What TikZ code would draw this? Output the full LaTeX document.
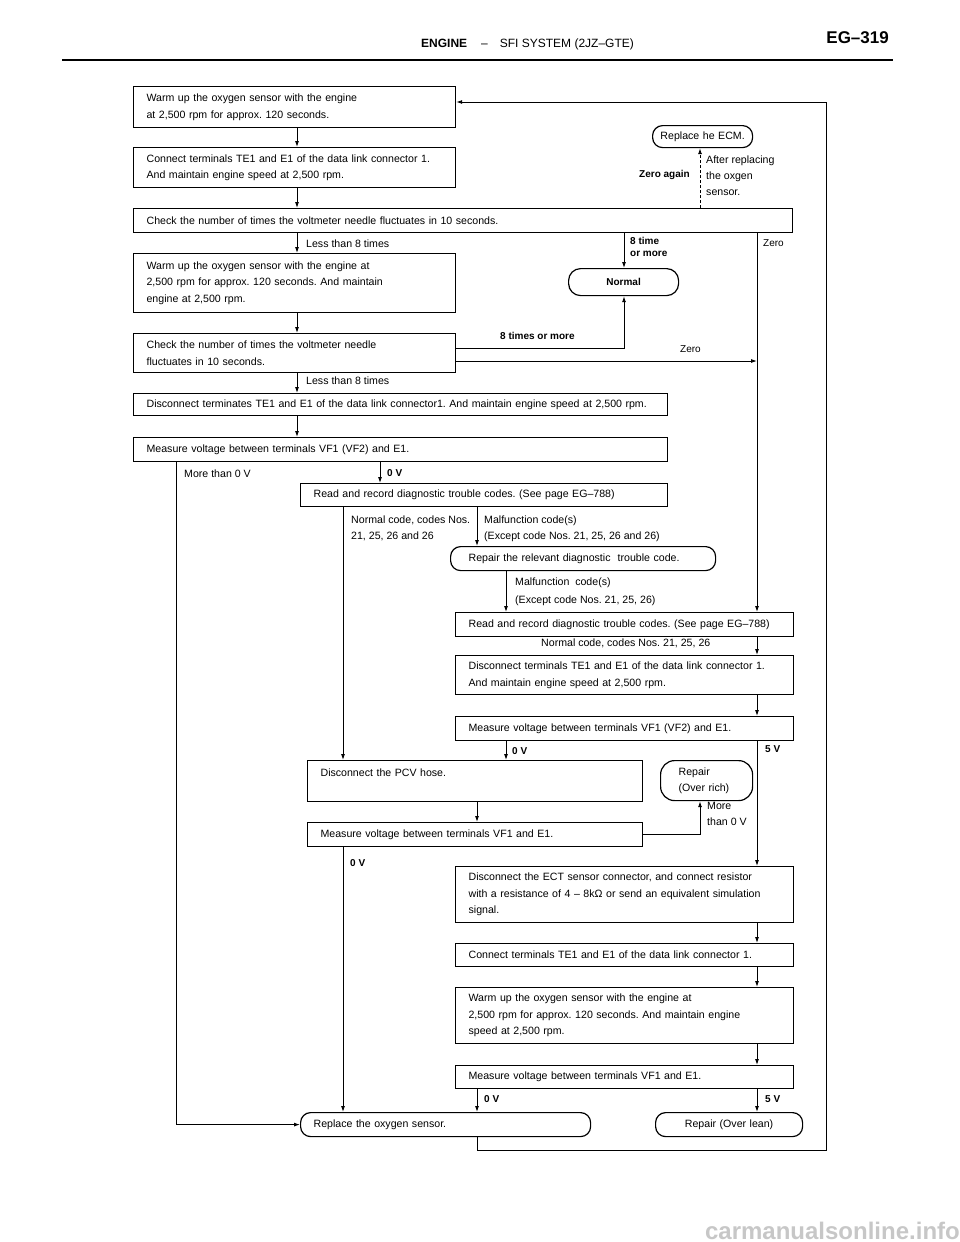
\documentclass[tikz,border=0pt]{standalone}
\usepackage{fontspec}
\setmainfont{Liberation Sans}
\usetikzlibrary{arrows.meta}
\frenchspacing
\newcommand\boxfont{\fontsize{10.6}{16.5}\selectfont}
\newcommand\scanfont{\bfseries\fontsize{10}{12}\selectfont}
\def\bxpad{13}
\newcommand\bxnode[7][]{%
 \pgfmathsetmacro\bxw{#5-#3}%
 \pgfmathsetmacro\bxh{#6-#4}%
 \pgfmathsetmacro\bxt{#5-#3-2*\bxpad}%
 \node[box,minimum width=\bxw pt,minimum height=\bxh pt,text width=\bxt pt,inner xsep=\bxpad pt,#1] (#2) at (#3,#4) {#7};}
\begin{document}
\begin{tikzpicture}[x=1pt,y=-1pt,
  box/.style={draw,line width=1.2pt,anchor=north west,inner ysep=0pt,align=left,font=\boxfont},
  term/.style={rounded corners=10pt},
  arr/.style={line width=0.9pt,-{Latex[length=6pt,width=4pt]}},
  lbl/.style={inner sep=0pt,font=\boxfont,align=left,anchor=north west},
  slbl/.style={inner sep=0pt,font=\scanfont,align=left,anchor=north west}]
\useasboundingbox (0,0) rectangle (960,1242);
% header
\node[anchor=base west,inner sep=0pt,font=\fontsize{12}{14}\selectfont] (hdr) at (421,47) {\textbf{ENGINE}\hspace{14pt}–\hspace{12pt}SFI SYSTEM (2JZ–GTE)};
\node[anchor=base east,inner sep=0pt,font=\bfseries\fontsize{17}{20}\selectfont] (pg) at (889,43) {EG–319};
\draw[line width=1.6pt] (62,60) -- (893,60);
% boxes
\bxnode{b1}{133}{86}{455}{127}{Warm up the oxygen sensor with the engine\\at 2,500 rpm for approx. 120 seconds.}
\bxnode{b2}{133}{147}{455}{187}{Connect terminals TE1 and E1 of the data link connector 1.\\And maintain engine speed at 2,500 rpm.}
\bxnode{b3}{133}{208}{792}{232}{Check the number of times the voltmeter needle fluctuates in 10 seconds.}
\bxnode{b4}{133}{253}{455}{312}{Warm up the oxygen sensor with the engine at\\2,500 rpm for approx. 120 seconds. And maintain\\engine at 2,500 rpm.}
\bxnode{b5}{133}{333}{455}{372}{Check the number of times the voltmeter needle\\fluctuates in 10 seconds.}
\bxnode{b6}{133}{393}{667}{415}{Disconnect terminates TE1 and E1 of the data link connector1. And maintain engine speed at 2,500 rpm.}
\bxnode{b7}{133}{437}{667}{461}{Measure voltage between terminals VF1 (VF2) and E1.}
\bxnode{b8}{300}{483}{667}{506}{Read and record diagnostic trouble codes. (See page EG–788)}
\bxnode{b9}{455}{612}{793}{636}{Read and record diagnostic trouble codes. (See page EG–788)}
\bxnode{b10}{455}{655}{793}{694}{Disconnect terminals TE1 and E1 of the data link connector 1.\\And maintain engine speed at 2,500 rpm.}
\bxnode{b11}{455}{716}{793}{740}{Measure voltage between terminals VF1 (VF2) and E1.}
\bxnode{b12}{307}{760}{642}{801}{Disconnect the PCV hose.\\~}
\bxnode{b13}{307}{822}{642}{846}{Measure voltage between terminals VF1 and E1.}
\bxnode{b14}{455}{866}{793}{922}{Disconnect the ECT sensor connector, and connect resistor\\with a resistance of 4 – 8kΩ or send an equivalent simulation\\signal.}
\bxnode{b15}{455}{943}{793}{966}{Connect terminals TE1 and E1 of the data link connector 1.}
\bxnode{b16}{455}{987}{793}{1043}{Warm up the oxygen sensor with the engine at\\2,500 rpm for approx. 120 seconds. And maintain engine\\speed at 2,500 rpm.}
\bxnode{b17}{455}{1065}{793}{1088}{Measure voltage between terminals VF1 and E1.}
% terminal nodes
\def\bxpad{18}
\bxnode[term]{rep1}{450}{546}{715}{570}{Repair the relevant diagnostic\ \ trouble code.}
\bxnode[term,rounded corners=14pt]{rich}{660}{760}{752}{800}{Repair\\\mbox{(Over rich)}}
\def\bxpad{13}
\bxnode[term]{oxy}{300}{1112}{590}{1136}{Replace the oxygen sensor.}
\bxnode[term,align=center]{lean}{655}{1112}{802}{1136}{Repair (Over lean)}
\def\bxpad{5}
\bxnode[term,align=center]{ecm}{652}{125}{752}{147}{Replace he ECM.}
\bxnode[term,align=center,rounded corners=12pt,font=\scanfont]{normal}{568}{268}{678}{295}{Normal}
% columns
\coordinate (cA) at (297,0);
\coordinate (cN) at (624,0);
\coordinate (cZ) at (757,0);
\coordinate (cL) at (176,0);
\coordinate (cB) at (380,0);
\coordinate (cC) at (343,0);
\coordinate (cD) at (477,0);
\coordinate (cE) at (506,0);
\coordinate (cG) at (700,0);
\coordinate (cR) at (826,0);
\coordinate (r1) at (0,348);
\coordinate (r2) at (0,361);
\coordinate (rb) at (0,1150);
\coordinate (rt) at (0,102);
% connectors
\draw[arr] (b1.south -| cA) -- (b2.north -| cA);
\draw[arr] (b2.south -| cA) -- (b3.north -| cA);
\draw[arr] (b3.south -| cA) -- (b4.north -| cA);
\draw[arr] (b4.south -| cA) -- (b5.north -| cA);
\draw[arr] (b5.south -| cA) -- (b6.north -| cA);
\draw[arr] (b6.south -| cA) -- (b7.north -| cA);
\draw[arr,dash pattern=on 3pt off 2pt] (b3.north -| cG) -- (ecm.south -| cG);
\draw[arr] (b3.south -| cN) -- (normal.north -| cN);
\draw[arr] (b5.east |- r1) -- (cN |- r1) -- (normal.south -| cN);
\draw[arr] (b5.east |- r2) -- (cZ |- r2);
\draw[arr] (b3.south -| cZ) -- (b9.north -| cZ);
\draw[arr] (b7.south -| cB) -- (b8.north -| cB);
\draw[arr] (b7.south -| cL) -- (cL |- oxy.west) -- (oxy.west);
\draw[arr] (b8.south -| cC) -- (b12.north -| cC);
\draw[arr] (b8.south -| cD) -- (rep1.north -| cD);
\draw[arr] (rep1.south -| cE) -- (b9.north -| cE);
\draw[arr] (b9.south -| cZ) -- (b10.north -| cZ);
\draw[arr] (b10.south -| cZ) -- (b11.north -| cZ);
\draw[arr] (b11.south -| cE) -- (b12.north -| cE);
\draw[arr] (b11.south -| cZ) -- (b14.north -| cZ);
\draw[arr] (b12.south -| cD) -- (b13.north -| cD);
\draw[arr] (b13.south -| cC) -- (oxy.north -| cC);
\draw[arr] (b13.east) -- (cG |- b13.east) -- (rich.south -| cG);
\draw[arr] (b14.south -| cZ) -- (b15.north -| cZ);
\draw[arr] (b15.south -| cZ) -- (b16.north -| cZ);
\draw[arr] (b16.south -| cZ) -- (b17.north -| cZ);
\draw[arr] (b17.south -| cD) -- (oxy.north -| cD);
\draw[arr] (b17.south -| cZ) -- (lean.north -| cZ);
\draw[arr] (oxy.south -| cD) -- (cD |- rb) -- (cR |- rb) -- (cR |- rt) -- (b1.east |- rt);
% labels
\node[lbl] (l1) at (306,240) {Less than 8 times};
\node[lbl] (l2) at (306,377) {Less than 8 times};
\node[slbl] (l3) at (630,237) {8 time\\or more};
\node[lbl,font=\fontsize{10}{12}\selectfont] (l4) at (763,239) {Zero};
\node[slbl] (l5) at (500,332) {8 times or more};
\node[lbl,font=\fontsize{10}{12}\selectfont] (l6) at (680,345) {Zero};
\node[slbl,anchor=north east] (l7) at (690,170) {Zero again};
\node[lbl,font=\fontsize{10.6}{16}\selectfont] (l8) at (706,156) {After replacing\\the oxgen\\sensor.};
\node[lbl] (l9) at (184,470) {More than 0 V};
\node[slbl] (l10) at (387,469) {0 V};
\node[lbl,font=\fontsize{10.6}{16}\selectfont] (l11) at (351,516) {Normal code, codes Nos.\\21, 25, 26 and 26};
\node[lbl,font=\fontsize{10.6}{16}\selectfont] (l12) at (484,516) {Malfunction code(s)\\(Except code Nos. 21, 25, 26 and 26)};
\node[lbl,font=\fontsize{10.6}{18}\selectfont] (l13) at (515,578) {Malfunction\ \ code(s)\\(Except code Nos. 21, 25, 26)};
\node[lbl] (l14) at (541,639) {Normal code, codes Nos. 21, 25, 26};
\node[slbl] (l15) at (512,747) {0 V};
\node[slbl] (l16) at (765,745) {5 V};
\node[lbl,font=\fontsize{10.6}{16}\selectfont] (l17) at (707,802) {More\\than 0 V};
\node[slbl] (l18) at (350,859) {0 V};
\node[slbl] (l19) at (484,1095) {0 V};
\node[slbl] (l20) at (765,1095) {5 V};
\node[anchor=base east,inner sep=0pt,text=black!22,font=\bfseries\fontsize{24}{26}\selectfont] (wm) at (960,1239) {carmanualsonline.info};
\end{tikzpicture}
\end{document}
